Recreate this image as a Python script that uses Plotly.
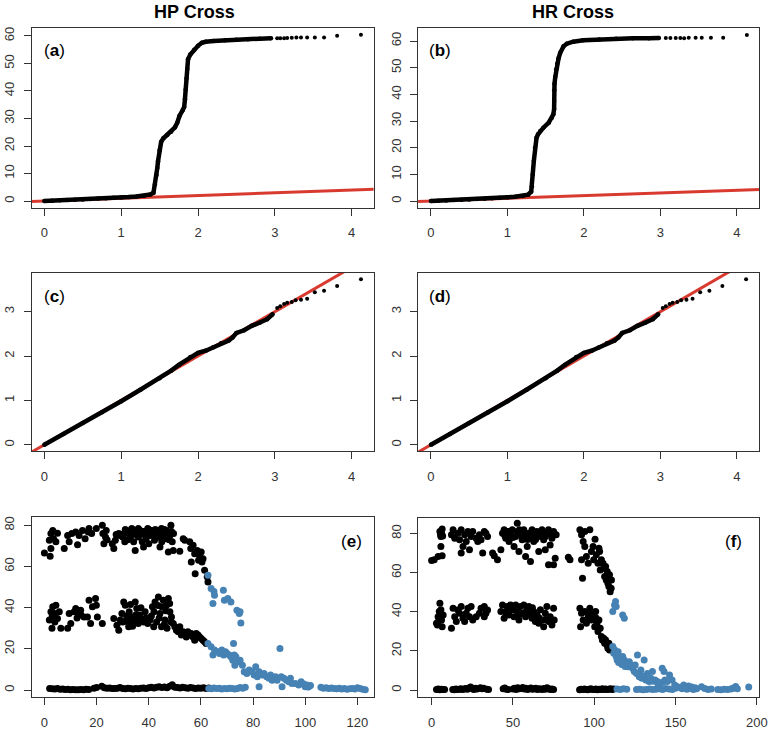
import plotly.graph_objects as go

qq_a_body = [(0, 0), (0.1, 0.1), (0.2, 0.25), (0.3, 0.35), (0.4, 0.5), (0.5, 0.6),
             (0.6, 0.75), (0.7, 0.9), (0.8, 1.05), (0.9, 1.2), (1.0, 1.3), (1.1, 1.45),
             (1.2, 1.65), (1.3, 1.95), (1.38, 2.4), (1.42, 3.0), (1.44, 6.0), (1.46, 9.5),
             (1.47, 12.0), (1.48, 14.5), (1.5, 18.5), (1.52, 21.5), (1.55, 22.8), (1.6, 24.0),
             (1.65, 25.2), (1.7, 26.8), (1.73, 28.5), (1.76, 31.0), (1.8, 33.0), (1.82, 34.2),
             (1.83, 37.0), (1.84, 40.5), (1.85, 44.5), (1.86, 48.0), (1.87, 51.5), (1.9, 53.3),
             (1.95, 55.0), (2.0, 56.4), (2.05, 57.5), (2.1, 57.9), (2.2, 58.2), (2.35, 58.4),
             (2.5, 58.6), (2.65, 58.8), (2.8, 59.0), (2.95, 59.2)]
qq_a_tail = [(3.03, 59.2), (3.07, 59.2), (3.12, 59.2), (3.16, 59.25), (3.22, 59.3),
             (3.28, 59.4), (3.34, 59.4), (3.42, 59.4), (3.52, 59.4), (3.64, 59.4),
             (3.81, 60.1), (4.12, 60.4)]

qq_b_body = [(0, 0), (0.1, 0.1), (0.2, 0.2), (0.3, 0.35), (0.4, 0.45), (0.5, 0.6),
             (0.6, 0.75), (0.7, 0.9), (0.8, 1.05), (0.9, 1.2), (1.0, 1.4), (1.1, 1.6),
             (1.2, 1.9), (1.27, 2.4), (1.31, 3.5), (1.32, 5.5), (1.33, 10.0), (1.345, 15.0),
             (1.36, 20.0), (1.38, 23.7), (1.4, 25.0), (1.43, 26.3), (1.47, 27.5), (1.54, 29.4),
             (1.58, 31.2), (1.6, 32.5), (1.61, 34.5), (1.61, 37.5), (1.612, 41.5), (1.615, 44.0),
             (1.625, 46.5), (1.638, 49.4), (1.65, 51.5), (1.668, 53.5), (1.69, 55.6),
             (1.733, 58.0), (1.776, 59.0), (1.86, 59.75), (1.99, 60.25), (2.2, 60.6),
             (2.42, 60.9), (2.64, 61.0), (2.85, 61.0), (2.98, 61.1)]
qq_b_tail = [(3.07, 61.1), (3.13, 61.1), (3.2, 61.1), (3.26, 61.1), (3.31, 61.0),
             (3.37, 61.25), (3.46, 61.25), (3.54, 61.25), (3.66, 61.25), (3.82, 61.25),
             (4.13, 62.25)]

# (c) and (d) are indistinguishable in the picture
qq_cd_body = [(0, 0), (0.25, 0.24), (0.5, 0.49), (0.75, 0.73), (1.0, 0.98), (1.25, 1.24),
              (1.5, 1.5), (1.65, 1.67), (1.75, 1.8), (1.9, 1.98), (2.0, 2.07), (2.1, 2.12),
              (2.2, 2.2), (2.3, 2.29), (2.4, 2.35), (2.45, 2.42), (2.5, 2.52), (2.6, 2.58),
              (2.7, 2.68), (2.8, 2.75), (2.9, 2.83), (2.97, 2.94)]
qq_cd_tail = [(3.03, 3.08), (3.07, 3.12), (3.12, 3.17), (3.16, 3.2), (3.22, 3.22),
              (3.27, 3.26), (3.34, 3.27), (3.42, 3.29), (3.52, 3.44), (3.64, 3.47),
              (3.81, 3.58), (4.12, 3.73)]

ref_line = [-1, 5]  # y = x

# ---- (e) HP cross scatter ----
e_black = [
    # upper band
    (0, 66.5), (2.2, 65), (2.5, 68.7), (1.9, 72.7), (2.5, 76), (3.2, 77.5), (3.5, 73.5),
    (4.4, 72), (5, 76.2), (7.6, 68.7), (8.9, 75), (9.5, 72), (10.5, 76), (12, 76.7),
    (12.7, 70.6), (13.3, 75), (14.6, 77.5), (15.6, 73.5), (16.8, 76.7), (17.1, 78.4),
    (18.1, 76), (19.9, 78.4), (22.2, 80), (22.4, 76), (22.8, 71), (23.4, 74.3), (23.7, 77.5),
    (26, 71), (26.6, 68.7), (27.2, 72.7), (28.5, 76), (30, 74.3), (30.8, 72), (31.6, 77.5),
    (32.3, 76), (33.5, 78.4), (34.2, 72), (34.8, 67.8), (35.4, 76.7), (36, 74.3), (36.7, 77.5),
    (38, 69.5), (38.6, 76), (39.6, 78.4), (40.5, 75), (41.1, 77.5), (42.2, 72.7), (43, 76.7),
    (43.7, 74.3), (44.3, 69.5), (44.9, 78.4), (45.6, 76), (46.2, 73.5), (46.8, 77.5),
    (47.5, 67), (48.1, 75), (48.5, 80), (49, 72), (49.4, 67.8), (51.9, 67.4), (53.2, 73.5),
    (53.8, 72.7), (55.7, 72), (56.1, 68.7), (56.3, 62.2), (57, 70.3), (57.6, 66.2),
    (57.8, 56.5), (58.6, 67.8), (59.1, 63), (59.5, 65.4), (60.1, 67), (60.4, 62.2),
    (60.8, 63.8), (61.4, 58.2), (62.4, 55), (62.7, 52.5),
    (30.5, 76), (33, 74.5), (37, 75.5), (39, 73.5), (41.5, 76), (42.5, 78), (44.5, 75.5),
    (46, 74.5), (47, 76), (47.8, 73), (48.7, 77), (32, 73), (35, 75.5), (29, 75),
    (24, 73), (27.5, 75.5), (31, 78), (34, 77), (36, 78.5), (38, 77), (40, 78), (42, 75),
    (44, 77.5), (46, 78), (48, 76.5), (49.5, 76), (45, 72), (37.5, 72), (40, 71),
    # middle band
    (1.9, 34), (2.5, 38), (2.9, 30), (3.2, 40.4), (3.8, 37.2), (4.4, 41.2), (5, 34.7),
    (5.7, 38), (6.3, 30), (8.9, 30), (9.5, 37.2), (10.1, 32.3), (11.4, 38), (12, 39.6),
    (13, 37.2), (13.9, 38.8), (15.2, 35.5), (16.5, 35.5), (17.1, 43.6), (17.7, 32.3),
    (18.4, 40.4), (19.6, 44.4), (19.9, 41.2), (20.3, 35.5), (22.2, 32.3), (26.6, 34.7),
    (27.8, 31.5), (28.5, 29), (29.1, 34), (29.7, 37.2), (30.4, 42.8), (31, 41.2), (31.6, 34),
    (32.3, 30.7), (32.5, 38), (33.3, 35.5), (34.2, 33.1), (34.8, 42.8), (35.4, 39.6),
    (36, 32.3), (36.7, 36.4), (37.3, 34), (38.6, 38), (39.6, 32.3), (40.5, 34), (41.4, 40.4),
    (41.9, 30.7), (42.4, 42.8), (43, 33.1), (43.7, 45.2), (44.3, 37.2), (44.9, 30.7),
    (45.6, 43.6), (46.2, 34), (46.8, 41.2), (47.5, 44.4), (48.1, 38), (48.7, 35.5),
    (49.4, 32.3), (50, 30.7), (50.6, 29), (51.3, 28.3), (51.9, 30.7), (52.5, 26.7),
    (53.2, 28.3), (53.8, 27.5), (54.4, 25.8), (55, 28.3), (55.7, 26.7), (56.3, 27.5),
    (57, 25.8), (57.6, 24.2), (58.2, 27.5), (58.9, 26.7), (59.5, 25.8), (60.1, 25),
    (60.8, 24.2), (61.4, 23.4), (62, 22.6),
    (31.5, 36), (33, 41.5), (35, 36.5), (37, 40), (38, 33), (43.5, 41), (45, 40.5),
    (46.5, 38.5), (48, 42), (30, 33), (33.8, 31), (4, 33), (3, 36),
    (32, 33), (34, 35), (36, 34.5), (39, 35), (41, 36), (42, 38), (44, 35), (46, 32),
    (47, 30), (48.5, 33), (14, 36.5), (12.5, 35),
    # lower band
    (2, 0.8), (3, 0.6), (4, 0.5), (5, 0.7), (6, 0.4), (7, 0.5), (8, 0.3), (9, 0.4),
    (10, 0.2), (11, 0.3), (12, 0.1), (13, 0.2), (14, 0.3), (15, 0.2), (16, 0.4), (17, 0.3),
    (19, 0.9), (20, 1.2), (22, 1.8), (23, 1.1), (24, 0.9), (25, 1.0), (26, 0.8), (27, 0.7),
    (28, 0.9), (29, 1.2), (30, 0.8), (31, 0.6), (32, 0.9), (33, 0.7), (34, 0.5), (35, 0.8),
    (36, 0.6), (37, 0.9), (38, 1.0), (39, 0.8), (40, 1.1), (41, 1.3), (42, 1.0), (43, 1.4),
    (44, 1.6), (45, 1.2), (46, 1.5), (47, 1.1), (48, 1.9), (49, 2.6), (50, 1.4), (51, 1.2),
    (52, 1.0), (53, 1.3), (54, 1.1), (55, 0.9), (56, 1.2), (57, 1.0), (58, 0.8), (59, 1.0),
    (60, 0.9), (61, 1.1), (62, 0.8), (63, 1.0),
]
e_blue = [
    (62.7, 55.7), (63.9, 49.3), (64.6, 42), (65, 47.8), (65.2, 46), (68.6, 48.5),
    (69, 43.6), (70.3, 44.4), (71.5, 42.8), (73.8, 38.8), (74.7, 37.2), (75.3, 32.6),
    (75, 38),
    (62.7, 22.6), (63.9, 21), (64.6, 17), (65.2, 19.4), (66.5, 18.6), (67.1, 17.8),
    (68, 19.4), (68.7, 17), (69.4, 18.6), (70, 17.8), (70.9, 17), (71.5, 16.2), (72.2, 14.5),
    (72.5, 22.6), (72.8, 17), (73, 12), (73.4, 16.2), (74, 13.7), (75, 14.5), (75.9, 12),
    (76.6, 8.9), (77.6, 8), (78.5, 9.7), (79.7, 8.9), (80.4, 7.3), (81, 11.3), (81.6, 6.5),
    (82.3, 8.9), (82.3, 1.6), (83.5, 7.3), (84.2, 8), (85.2, 6.5), (86.1, 5.7), (86.7, 7.3),
    (87.3, 4.8), (88.6, 6.5), (89.2, 4.8), (90.3, 20.2), (90.8, 6.5), (91.1, 1.6),
    (91.8, 5.7), (92.8, 4.8), (93.7, 4), (94.3, 5.7), (94.9, 3.2), (96.2, 3.2), (97.5, 2.4),
    (98.4, 4), (99.4, 2.9), (100, 1.6), (100.6, 2.4), (101.3, 1.6), (101, 1.5), (102, 2.2),
    (63, 0.8), (64, 0.6), (65, 1.0), (66, 0.7), (67, 0.9), (68, 0.5), (69, 0.8), (70, 0.6),
    (71, 0.9), (72, 0.7), (73, 0.5), (74, 0.8), (75, 1.2), (76, 0.9), (77, 1.4),
    (106, 1.3), (107, 0.9), (108, 1.1), (109, 0.7), (110, 1.0), (111, 0.8), (112, 0.6),
    (113, 0.9), (114, 0.5), (115, 0.7), (116, 0.4), (117, 0.6), (118, 0.8), (119, 0.5),
    (120, 1.1), (121, 0.7), (122, 0.4), (123, 0.2),
]

# ---- (f) HR cross scatter ----
f_black = [
    # upper band
    (5.1, 81), (6.1, 80.2), (5.7, 78.5), (6.5, 82.3), (0, 66.2), (1.6, 66.6), (4, 68.3),
    (6.5, 68.6), (5.7, 73.4), (5.5, 79.5), (6.8, 78.8),
    (12.2, 79.4), (13.2, 81.9), (14.2, 77.6), (16.2, 80.2), (17.2, 76.8), (18.2, 81.9),
    (19.3, 73.4), (18.2, 70), (20.3, 79.4), (21.3, 75.9), (22.3, 81), (23.3, 71.7),
    (24.3, 78.5), (25.3, 81), (27.4, 77.6), (28.4, 75.9), (29.4, 79.4), (30.4, 76.8),
    (31.4, 70), (32.4, 81), (33.4, 80.2), (34.4, 78.5), (37.5, 70), (38.5, 68.6), (40.5, 66.6),
    (42.6, 71.7), (43.6, 80.2), (44.6, 81.9), (45.6, 77.6), (46.6, 81), (47.6, 75.9),
    (48.6, 79.4), (49.6, 81.9), (50.7, 73.4), (51.7, 78.5), (52.7, 85.3), (52.7, 81),
    (53.7, 70.8), (54.7, 79.4), (55.7, 76.8), (56.7, 81.9), (57.8, 68.3), (58.8, 73.4),
    (59.8, 80.2), (60.8, 65.7), (60.8, 77.6), (61.8, 81.9), (62.8, 75.9), (63.8, 79.4),
    (64.8, 81), (65.9, 70.8), (66.9, 78.5), (67.9, 81.9), (68.9, 76.8), (69.9, 71.7),
    (70.9, 80.2), (71.9, 64), (71.9, 81.9), (72.9, 74.2), (74, 77.6), (75, 81), (75, 64),
    (76, 67.4), (76.6, 79.4), (45, 79), (50, 78), (57, 79.5), (62, 79), (66, 80.5),
    (70, 78.5), (73, 80), (48, 81), (54, 82), (59, 77), (64, 77), (68, 79),
    (84.1, 67.9), (85.1, 66.6),
    (91.2, 81.9), (92.2, 79.4), (93.2, 75.9), (94.2, 81), (92.8, 57.2), (92.2, 66.6),
    (94.2, 73.4), (95.2, 68.3), (96.3, 64.8), (97.3, 81.9), (98.3, 70.8), (99.3, 73.4),
    (99.7, 66.6), (100.5, 77.1), (101.3, 69.1), (102.3, 64.8), (102.9, 72.5), (103.3, 70.8),
    (103.7, 61.4), (104.4, 66.6), (105.4, 64.8), (105.8, 62.3), (106.4, 58), (107, 63.1),
    (107.4, 56.3), (108, 60.6), (108.4, 54.6), (109, 52.9), (109.4, 58.9), (109.8, 50.3),
    (110.4, 52), (110.6, 56.3),
    # middle band
    (3, 34.1), (4, 37.5), (4.7, 40.1), (5.1, 44.4), (6.1, 35.8), (6.5, 32.4), (7.1, 38.4),
    (5.7, 41), (3.6, 33.3), (4.5, 35.5),
    (12.2, 31.6), (13.2, 41.8), (14.2, 37.5), (15.2, 35), (16.2, 40.9), (17.2, 39.2),
    (18.2, 42.7), (19.3, 36.7), (20.3, 35), (21.3, 39.2), (22.3, 41.8), (23.3, 37.5),
    (24.3, 42.7), (25.3, 35.8), (27.4, 37.5), (29.4, 39.2), (30.4, 41.8), (32.4, 37.5),
    (32.4, 42.7), (33.4, 39.2), (34.4, 40.9),
    (42.6, 40.1), (43.6, 43.5), (44.6, 36.7), (45.6, 40.1), (46.6, 42.7), (47.6, 38.4),
    (48.6, 43.5), (49.6, 41), (50.7, 37.5), (51.7, 43.5), (52.7, 40.1), (53.7, 35.8),
    (54.7, 42.7), (55.7, 39.2), (56.7, 43.5), (57.8, 37.5), (58.8, 41), (59.8, 42.7),
    (60.8, 39.2), (61.8, 36.7), (62.8, 40.1), (63.8, 35), (64.8, 38.4), (65.9, 34.1),
    (66.9, 41), (67.9, 35.8), (68.9, 32.4), (69.9, 39.2), (70.9, 42.7), (71.9, 35),
    (72.9, 37.5), (74, 33.3), (75, 41.8), (75.4, 35.8), (46, 39), (50, 41.5), (54, 38.5),
    (58, 40), (62, 42), (66, 37), (70, 36),
    (91.2, 41.8), (91.6, 32.4), (92.2, 39.2), (93.2, 35.8), (94.2, 40.1), (95.2, 34.1),
    (96.3, 38.4), (97.3, 41.8), (98.3, 35.8), (99.3, 37.5), (100.3, 32.4), (100.9, 40.1),
    (101.7, 34.1), (102.3, 29.9), (102.9, 35.8), (103.7, 31.6), (104.4, 27.3), (105, 25.6),
    (105.8, 26.5), (106.4, 23.9), (107, 25.6), (107.8, 23), (108.4, 21.3), (109, 23.9),
    (109.4, 20.5), (110, 22.2), (110.6, 20.5), (96, 36), (98, 39), (101, 37),
    # lower band
    (3, 0.2), (4, 0.5), (5, 0.1), (6, 0.4), (7, 0.2), (8, 0.3),
    (13, 0.3), (14, 0.1), (15, 0.5), (16, 0.2), (17, 0.4), (18, 0.6), (19, 0.3), (20, 0.5),
    (21, 0.8), (22, 0.4), (23, 1.0), (24, 1.5), (25, 0.7), (26, 0.3), (27, 0.9), (28, 0.5),
    (30, 1.2), (31, 0.6), (32, 0.9), (34, 0.4), (35, 0.2),
    (44, 0.6), (45, 1.0), (46, 0.4), (47, 0.2), (50, 0.5), (51, 0.9), (52, 0.3), (53, 1.1),
    (54, 0.6), (55, 0.8), (56, 1.3), (57, 0.5), (58, 0.9), (59, 0.2), (60, 0.7), (61, 1.0),
    (62, 0.4), (63, 0.6), (64, 0.9), (65, 0.3), (66, 0.7), (67, 0.5), (68, 0.2), (69, 0.8),
    (70, 0.4), (71, 1.1), (72, 0.6), (73, 0.3), (74, 0.5), (75, 0.2),
    (91, 0.1), (92, 0.4), (93, 0.2), (94, 0.5), (95, 0.3), (96, 0.1), (97, 0.4), (98, 0.6),
    (99, 0.2), (100, 0.3), (101, 0.5), (102, 0.1), (103, 0.4), (104, 0.2), (105, 0.6),
    (106, 0.3), (107, 0.5), (108, 0.2), (109, 0.4), (110, 0.7), (111, 0.3), (112, 0.5),
]
f_blue = [
    (111.4, 40.1), (112.5, 43.5), (113.1, 45.2), (113.5, 42.7), (117.5, 38.4), (118.5, 36.7),
    (111.4, 22.2), (112, 18.8), (112.7, 20.5), (113.5, 17.1), (114.1, 15.4), (114.7, 19.6),
    (115.5, 16.2), (116.5, 14.5), (117.5, 17.1), (118.5, 15.4), (119.6, 13.7), (120.6, 11.9),
    (121.6, 14.5), (122.6, 12.8), (123.6, 11.1), (124.6, 9.4), (125.2, 12.8), (126, 8.5),
    (126.6, 17.9), (127.7, 6.8), (128.7, 10.2), (129.3, 6), (130.7, 15.4), (131.7, 5.1),
    (132.7, 8.5), (133.7, 4.3), (134.8, 6), (135.8, 9.4), (137.4, 5.1), (138.8, 4.3),
    (140.8, 3.4), (141.8, 11.1), (142.9, 9.4), (143.5, 5.1), (144.9, 4.3), (146.3, 7.7),
    (147.9, 5.1), (149.5, 2.6), (151, 1.7), (115, 14), (117, 13), (119, 12), (121, 13.5),
    (124, 12.5), (128, 8), (130, 7), (133, 5.5), (136, 4.5), (139, 3.5), (142, 4),
    (114, 0.5), (116, 0.2), (118, 0.6), (120, 0.4), (126, 0.2), (128, 0.4), (130, 0.1),
    (132, 0.3), (134, 0.5), (136, 0.2), (138, 0.4), (140, 0.6), (142, 0.3), (144, 0.8),
    (146, 0.5), (148, 0.2), (150, 0.9), (152, 1.4), (154, 0.6), (155, 2.5), (156, 1.2),
    (157, 0.4), (158, 2.0), (159, 0.8), (160, 1.5), (161, 0.3), (162, 1.1), (163, 0.6),
    (166, 1.6), (168, 0.8), (170, 0.2), (172, 0.5), (176, 0.3), (178, 0.1), (180, 0.4),
    (182, 0.2), (184, 0.5), (185, 0.8), (186, 1.2), (187, 1.8), (188, 0.6), (195, 1.5),
]

BLACK = "#000000"
BLUE = "#4682B4"
RED = "#D93A30"
FONT = "Liberation Sans, Arial, sans-serif"

W, H = 778, 730
# panel boxes in pixels (left, right, top, bottom)
boxes = {
    1: (32, 378, 27, 207), 2: (423, 768, 27, 207),
    3: (32, 378, 272, 451), 4: (423, 768, 272, 451),
    5: (32, 378, 517, 697), 6: (423, 768, 518, 697),
}
axes = {
    1: dict(xr=[-0.165, 4.285], yr=[-2.42, 62.9], xt=[0, 1, 2, 3, 4], yt=[0, 10, 20, 30, 40, 50, 60]),
    2: dict(xr=[-0.168, 4.29], yr=[-2.5, 64.9], xt=[0, 1, 2, 3, 4], yt=[0, 10, 20, 30, 40, 50, 60]),
    3: dict(xr=[-0.165, 4.285], yr=[-0.15, 3.88], xt=[0, 1, 2, 3, 4], yt=[0, 1, 2, 3]),
    4: dict(xr=[-0.168, 4.29], yr=[-0.15, 3.88], xt=[0, 1, 2, 3, 4], yt=[0, 1, 2, 3]),
    5: dict(xr=[-4.9, 126.2], yr=[-3.4, 83.9], xt=[0, 20, 40, 60, 80, 100, 120], yt=[0, 20, 40, 60, 80]),
    6: dict(xr=[-8.3, 201.4], yr=[-3.6, 87.8], xt=[0, 50, 100, 150, 200], yt=[0, 20, 40, 60, 80]),
}

fig = go.Figure()


def unzip(pairs):
    xs, ys = zip(*pairs)
    return list(xs), list(ys)


def ax(i):
    return ("x" if i == 1 else f"x{i}"), ("y" if i == 1 else f"y{i}")


def add_qq(i, body, tail):
    xa, ya = ax(i)
    fig.add_trace(go.Scatter(x=ref_line, y=ref_line, mode="lines", xaxis=xa, yaxis=ya,
                             line=dict(color=RED, width=3), hoverinfo="skip"))
    bx, by = unzip(body)
    fig.add_trace(go.Scatter(x=bx, y=by, mode="lines+markers", xaxis=xa, yaxis=ya,
                             line=dict(color=BLACK, width=4.5),
                             marker=dict(color=BLACK, size=4.5)))
    tx, ty = unzip(tail)
    fig.add_trace(go.Scatter(x=tx, y=ty, mode="markers", xaxis=xa, yaxis=ya,
                             marker=dict(color=BLACK, size=4)))


def add_scatter(i, black, blue):
    xa, ya = ax(i)
    for pts, col in ((black, BLACK), (blue, BLUE)):
        px, py = unzip(pts)
        fig.add_trace(go.Scatter(x=px, y=py, mode="markers", xaxis=xa, yaxis=ya,
                                 marker=dict(color=col, size=7, line=dict(width=0))))


add_qq(1, qq_a_body, qq_a_tail)
add_qq(2, qq_b_body, qq_b_tail)
add_qq(3, qq_cd_body, qq_cd_tail)
add_qq(4, qq_cd_body, qq_cd_tail)
add_scatter(5, e_black, e_blue)
add_scatter(6, f_black, f_blue)

layout = dict(
    width=W, height=H, autosize=False, margin=dict(l=0, r=0, t=0, b=0),
    paper_bgcolor="white", plot_bgcolor="white", showlegend=False,
    font=dict(family=FONT, color="#333333"),
)
for i, (l, r, t, b) in boxes.items():
    a = axes[i]
    common = dict(showgrid=False, zeroline=False, showline=True, mirror=True,
                  linecolor="#333333", linewidth=1, ticks="outside", ticklen=7,
                  tickcolor="#333333", tickfont=dict(size=13, family=FONT, color="#333333"))
    layout["xaxis" if i == 1 else f"xaxis{i}"] = dict(
        domain=[l / W, r / W], range=a["xr"], tickvals=a["xt"],
        anchor=ax(i)[1], ticklabelstandoff=6, **common)
    layout["yaxis" if i == 1 else f"yaxis{i}"] = dict(
        domain=[1 - b / H, 1 - t / H], range=a["yr"], tickvals=a["yt"],
        anchor=ax(i)[0], tickangle=-90, ticklabelstandoff=4, **common)

fig.update_layout(**layout)

# column titles
for text, cx in (("HP Cross", 197), ("HR Cross", 580)):
    fig.add_annotation(text=f"<b>{text}</b>", x=cx / W, y=1 - 11 / H, xref="paper", yref="paper",
                       showarrow=False, xanchor="center", yanchor="middle",
                       font=dict(size=18, family=FONT, color="#000000"))

# panel tags
tags = [("a", 42, 50, "left"), ("b", 432, 50, "left"), ("c", 42, 296, "left"),
        ("d", 432, 296, "left"), ("e", 368, 541, "right"), ("f", 753, 541, "right")]
for lab, px, py, anc in tags:
    fig.add_annotation(text=f"(<b>{lab}</b>)", x=px / W, y=1 - py / H, xref="paper", yref="paper",
                       showarrow=False, xanchor=anc, yanchor="middle",
                       font=dict(size=17, family=FONT, color="#000000"))

# the page's default body margin would push the figure 8px down and right
fig.write_html(
    "out.html",
    config={"displayModeBar": False, "responsive": False},
    post_script="document.body.style.margin='0';document.body.style.overflow='hidden';",
)
